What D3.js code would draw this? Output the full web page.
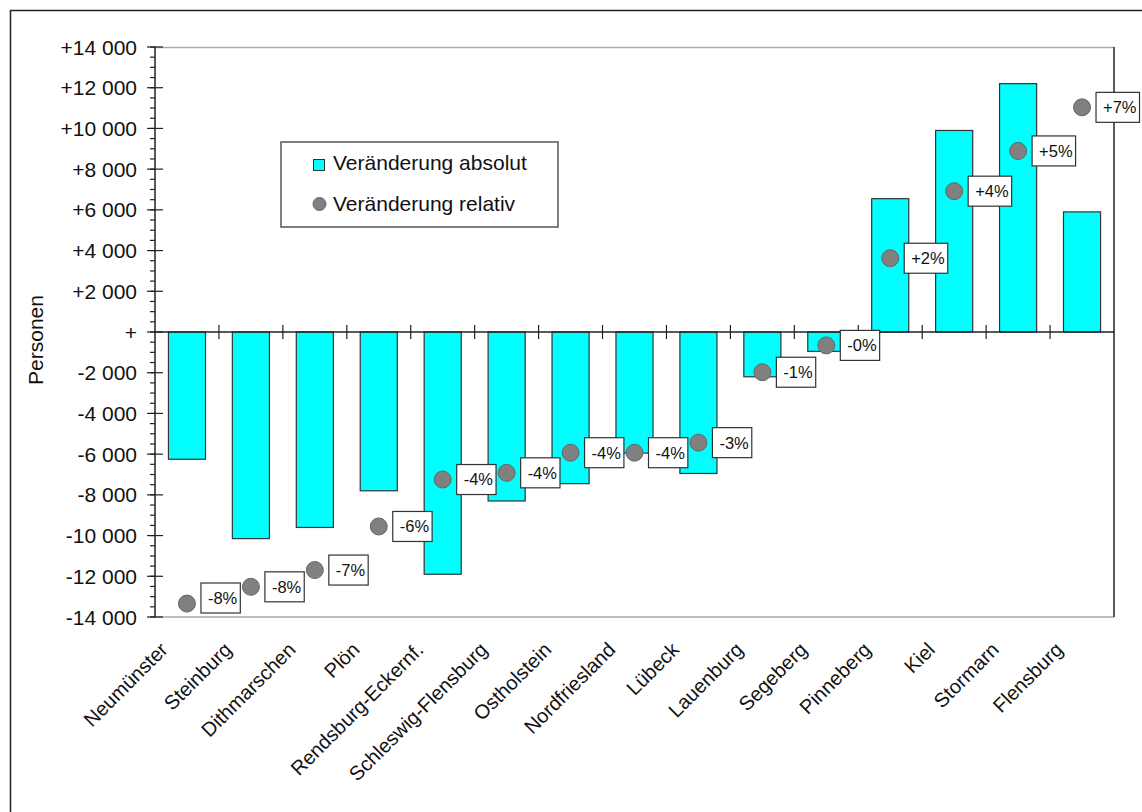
<!DOCTYPE html>
<html>
<head>
<meta charset="utf-8">
<script src="https://cdn.jsdelivr.net/npm/d3@7"></script>
<style>
  body { margin: 0; background: #fff; }
  svg { display: block; font-family: "Liberation Sans", Arial, sans-serif; }
</style>
</head>
<body>
<svg width="1142" height="812"></svg>
<script>
// Kreise / kreisfreie Städte
const kreise = ["Neumünster", "Steinburg", "Dithmarschen", "Plön", "Rendsburg-Eckernf.",
  "Schleswig-Flensburg", "Ostholstein", "Nordfriesland", "Lübeck", "Lauenburg",
  "Segeberg", "Pinneberg", "Kiel", "Stormarn", "Flensburg"];
// Veränderung absolut (Personen)
const absolut = [-6250, -10150, -9600, -7800, -11900, -8300, -7450, -5950, -6950, -2200,
  -950, 6550, 9900, 12200, 5900];
// Veränderung relativ (%)
const relativ = [-8.1, -7.6, -7.1, -5.8, -4.4, -4.2, -3.6, -3.6, -3.3, -1.2,
  -0.4, 2.2, 4.2, 5.4, 6.7];
const yTicks = [-14000, -12000, -10000, -8000, -6000, -4000, -2000, 0, 2000, 4000, 6000, 8000, 10000, 12000, 14000];
const legendItems = ["Veränderung absolut", "Veränderung relativ"];

const svg = d3.select("svg");
const pLeft = 155, pRight = 1114, pTop = 47, pBottom = 617;

svg.append("rect").attr("width", 1142).attr("height", 812).attr("fill", "#fff");
// äußerer Rahmen
svg.append("path").attr("d", "M10.5,812V10.5H1142")
  .attr("fill", "none").attr("stroke", "#222").attr("stroke-width", 1.5);

const x = d3.scaleBand().domain(kreise).range([pLeft, pRight])
  .paddingInner(0.42).paddingOuter(0.21);
const y = d3.scaleLinear().domain([-14000, 14000]).range([pBottom, pTop]);
const y2 = d3.scaleLinear().domain([-8.5, 8.5]).range([pBottom, pTop]);

// Rahmen oben/unten grau
svg.append("line").attr("x1", pLeft).attr("x2", pRight).attr("y1", pTop + 0.5).attr("y2", pTop + 0.5)
  .attr("stroke", "#aaa").attr("stroke-width", 1.5);
svg.append("line").attr("x1", pLeft).attr("x2", pRight).attr("y1", pBottom).attr("y2", pBottom)
  .attr("stroke", "#aaa").attr("stroke-width", 1.5);
svg.append("line").attr("x1", pRight).attr("x2", pRight).attr("y1", pTop).attr("y2", pBottom)
  .attr("stroke", "#222").attr("stroke-width", 1.5);

// Balken
svg.append("g").selectAll("rect")
  .data(absolut)
  .enter().append("rect")
  .attr("x", (d, i) => x(kreise[i]))
  .attr("width", x.bandwidth())
  .attr("y", d => y(Math.max(0, d)))
  .attr("height", d => Math.abs(y(d) - y(0)))
  .attr("fill", "#00ffff")
  .attr("stroke", "#333")
  .attr("stroke-width", 1.2);

// Nulllinie + Kategorie-Ticks
svg.append("line").attr("x1", pLeft).attr("x2", pRight).attr("y1", y(0)).attr("y2", y(0))
  .attr("stroke", "#222").attr("stroke-width", 1.5);
const step = x.step();
svg.append("g").selectAll("line")
  .data(kreise.slice(1))
  .enter().append("line")
  .attr("x1", (d, i) => pLeft + (i + 1) * step)
  .attr("x2", (d, i) => pLeft + (i + 1) * step)
  .attr("y1", y(0) - 7).attr("y2", y(0) + 7)
  .attr("stroke", "#222").attr("stroke-width", 1.2);

// y-Achse
const fmt = d3.formatLocale({ decimal: ",", thousands: "\u00a0", grouping: [3], currency: ["", ""] }).format(",d");
const minor = d3.range(-14000, 14001, 500);
const axisG = svg.append("g");
axisG.append("line").attr("x1", pLeft).attr("x2", pLeft).attr("y1", pTop).attr("y2", pBottom)
  .attr("stroke", "#222").attr("stroke-width", 1.5);
axisG.selectAll(".minor").data(minor).enter().append("line")
  .attr("x1", pLeft - 5).attr("x2", pLeft).attr("y1", d => y(d)).attr("y2", d => y(d))
  .attr("stroke", "#222").attr("stroke-width", 1.2);
axisG.selectAll(".major").data(yTicks).enter().append("line")
  .attr("x1", pLeft - 8).attr("x2", pLeft + 8).attr("y1", d => y(d)).attr("y2", d => y(d))
  .attr("stroke", "#222").attr("stroke-width", 1.2);
axisG.selectAll("text").data(yTicks).enter().append("text")
  .attr("x", 137).attr("y", d => y(d)).attr("dy", "0.36em")
  .attr("text-anchor", "end").attr("font-size", 21).attr("fill", "#111")
  .text(d => d === 0 ? "+" : (d > 0 ? "+" : "-") + fmt(Math.abs(d)));

svg.append("text").attr("transform", "translate(43,340) rotate(-90)")
  .attr("text-anchor", "middle").attr("font-size", 21).attr("fill", "#111")
  .text("Personen");

// x-Beschriftung
svg.append("g").selectAll("text")
  .data(kreise)
  .enter().append("text")
  .attr("transform", d => "translate(" + (x(d) + x.bandwidth() / 2 - 18) + ",651) rotate(-45)")
  .attr("text-anchor", "end").attr("font-size", 20).attr("fill", "#111")
  .text(d => d);

// Punkte relativ
const cx = i => x(kreise[i]) + x.bandwidth() / 2;
svg.append("g").selectAll("circle")
  .data(relativ)
  .enter().append("circle")
  .attr("cx", (d, i) => cx(i))
  .attr("cy", d => y2(d))
  .attr("r", 8.5)
  .attr("fill", "#808080")
  .attr("stroke", "#666")
  .attr("stroke-width", 1);

// Datenbeschriftungen
const lab = svg.append("g");
relativ.forEach((v, i) => {
  const r = Math.round(v);
  const txt = (v < 0 ? "-" : "+") + Math.abs(r) + "%";
  let by = y2(v) - 15;
  if (by + 30 > pBottom - 4) by = pBottom - 4 - 30;
  const bx = cx(i) + 14;
  const g = lab.append("g");
  const rect = g.append("rect").attr("x", bx).attr("y", by).attr("height", 30)
    .attr("fill", "#fff").attr("stroke", "#333").attr("stroke-width", 1.2);
  const t = g.append("text").attr("x", bx + 7).attr("y", by + 15).attr("dy", "0.36em")
    .attr("font-size", 16.5).attr("fill", "#111").text(txt);
  rect.attr("width", t.node().getComputedTextLength() + 10);
});

// Legende
const leg = svg.append("g");
leg.append("rect").attr("x", 281).attr("y", 142).attr("width", 277).attr("height", 85)
  .attr("fill", "#fff").attr("stroke", "#555").attr("stroke-width", 1.5);
leg.append("rect").attr("x", 313.5).attr("y", 159.5).attr("width", 11).attr("height", 11)
  .attr("fill", "#00ffff").attr("stroke", "#333").attr("stroke-width", 1);
leg.append("circle").attr("cx", 319.5).attr("cy", 204).attr("r", 6.5)
  .attr("fill", "#808080").attr("stroke", "#666");
leg.selectAll("text").data(legendItems).enter().append("text")
  .attr("x", 333).attr("y", (d, i) => 170 + i * 40.5)
  .attr("font-size", 21).attr("fill", "#111")
  .text(d => d);
</script>
</body>
</html>
